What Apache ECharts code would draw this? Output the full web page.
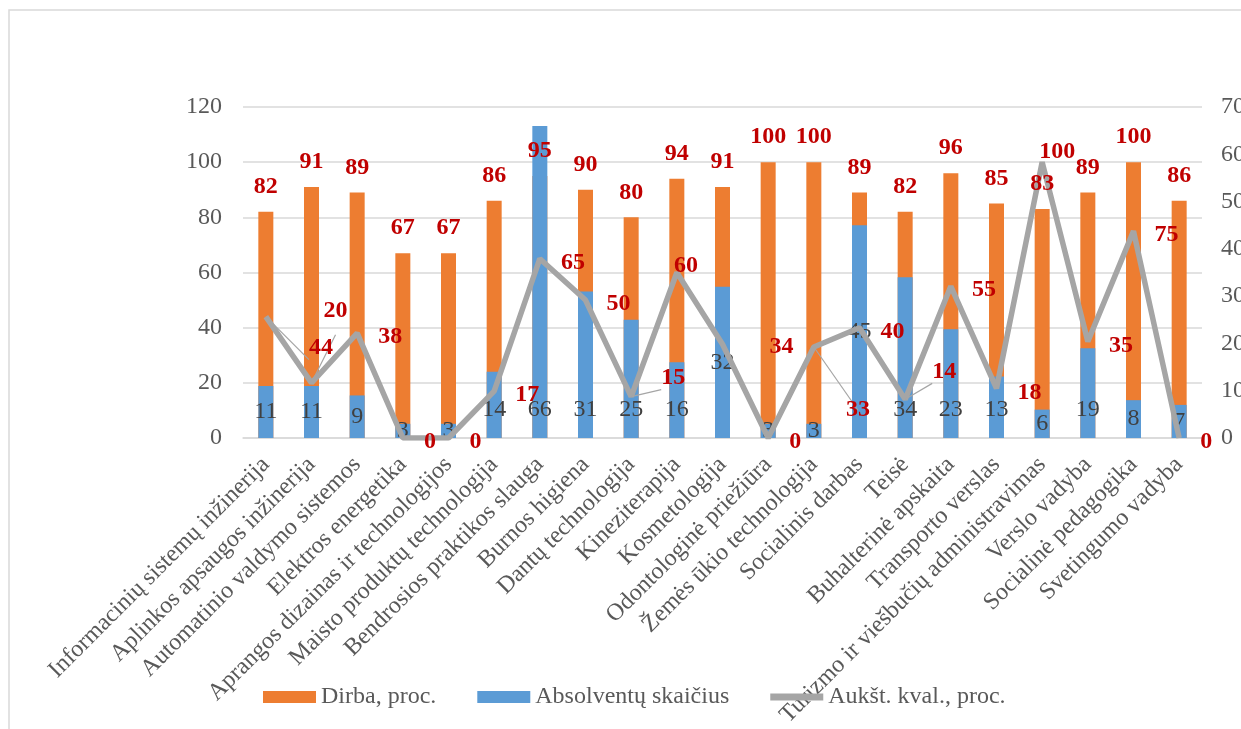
<!DOCTYPE html>
<html>
<head>
<meta charset="utf-8">
<script src="https://cdn.jsdelivr.net/npm/echarts@6/dist/echarts.min.js"></script>
<style>
html,body{margin:0;padding:0;background:#fff;}
#chart{width:1241px;height:729px;}
</style>
</head>
<body>
<div id="chart"></div>
<script>
const categories = [
  'Informacinių sistemų inžinerija',
  'Aplinkos apsaugos inžinerija',
  'Automatinio valdymo sistemos',
  'Elektros energetika',
  'Aprangos dizainas ir technologijos',
  'Maisto produktų technologija',
  'Bendrosios praktikos slauga',
  'Burnos higiena',
  'Dantų technologija',
  'Kineziterapija',
  'Kosmetologija',
  'Odontologinė priežiūra',
  'Žemės ūkio technologija',
  'Socialinis darbas',
  'Teisė',
  'Buhalterinė apskaita',
  'Transporto verslas',
  'Turizmo ir viešbučių administravimas',
  'Verslo vadyba',
  'Socialinė pedagogika',
  'Svetingumo vadyba'
];
const dirba = [82, 91, 89, 67, 67, 86, 95, 90, 80, 94, 91, 100, 100, 89, 82, 96, 85, 83, 89, 100, 86];
const absolventai = [11, 11, 9, 3, 3, 14, 66, 31, 25, 16, 32, 3, 3, 45, 34, 23, 13, 6, 19, 8, 7];
const aukstKval = [44, 20, 38, 0, 0, 17, 65, 50, 15, 60, 34, 0, 33, 40, 14, 55, 18, 100, 35, 75, 0];
const leftTicks = [0, 20, 40, 60, 80, 100, 120];
const rightTicks = [0, 10, 20, 30, 40, 50, 60, 70];

// label styling (not data)
const lineLabelDefaultShift = [1, 4];
const lineLabelShift = {0: [23, 31], 1: [-8, -72], 8: [10, -19], 9: [-23, -7], 10: [27, 3], 12: [12, 63], 14: [7, -28], 17: [-23, -10]};
const lineLabelLeaders = [0, 1, 8, 12, 14];
const centeredBlueLabels = [10, 13];

const FONT = '"Liberation Serif", "Times New Roman", serif';
const FS = 24;
const RED = '#C00000';
const GRAY = '#A5A5A5';
const TXT = '#595959';

const blueData = absolventai.map((v, i) => {
  const centered = v < 12 || centeredBlueLabels.includes(i);
  return {value: v, label: {position: centered ? 'inside' : 'insideBottom', distance: centered ? 0 : 16}};
});
const lineData = aukstKval.map((v, i) => {
  const item = {value: v, label: {offset: lineLabelShift[i] || lineLabelDefaultShift}};
  if (lineLabelLeaders.includes(i)) item.labelLine = {show: true};
  return item;
});

const chart = echarts.init(document.getElementById('chart'), null, {renderer: 'canvas'});
chart.setOption({
  animation: false,
  backgroundColor: '#fff',
  textStyle: {fontFamily: FONT},
  graphic: [{
    type: 'rect', z: -10, silent: true,
    shape: {x: 9, y: 10, width: 1400, height: 1000},
    style: {fill: 'none', stroke: '#D9D9D9', lineWidth: 1.5}
  }],
  grid: {left: 243, right: 39, top: 107, bottom: 291, containLabel: false, outerBoundsMode: 'none'},
  legend: {
    left: 258, top: 680,
    itemWidth: 53, itemHeight: 12, itemGap: 41,
    textStyle: {fontFamily: FONT, fontSize: FS, color: TXT},
    data: [
      {name: 'Dirba, proc.', icon: 'rect'},
      {name: 'Absolventų skaičius', icon: 'rect'},
      {name: 'Aukšt. kval., proc.', icon: 'path://M0,0L0.01,0ZM0,12L0.01,12ZM0,2.5H53V9.5H0Z', itemStyle: {color: GRAY}}
    ]
  },
  xAxis: {
    type: 'category',
    data: categories,
    axisLine: {lineStyle: {color: '#D9D9D9', width: 1.5}},
    axisTick: {show: false},
    axisLabel: {
      interval: 0, rotate: 45, margin: 23,
      fontFamily: FONT, fontSize: FS, color: TXT,
      padding: [28, 0, 0, 0]
    }
  },
  yAxis: [{
    type: 'value', min: 0, max: 120, interval: 20,
    axisLine: {show: false}, axisTick: {show: false},
    splitLine: {lineStyle: {color: '#D9D9D9', width: 1.5}},
    axisLabel: {fontFamily: FONT, fontSize: FS, color: TXT, margin: 21,
      formatter: v => leftTicks.includes(v) ? String(v) : ''}
  }, {
    type: 'value', min: 0, max: 70, interval: 10,
    axisLine: {show: false}, axisTick: {show: false},
    splitLine: {show: false},
    axisLabel: {fontFamily: FONT, fontSize: FS, color: TXT, margin: 19,
      formatter: v => rightTicks.includes(v) ? String(v) : ''}
  }],
  series: [{
    name: 'Dirba, proc.', type: 'bar', yAxisIndex: 0,
    data: dirba, barWidth: 15, barGap: '-100%', z: 2,
    itemStyle: {color: '#ED7D31'}
  }, {
    name: 'Absolventų skaičius', type: 'bar', yAxisIndex: 1,
    data: blueData, barWidth: 15, barGap: '-100%', z: 3,
    itemStyle: {color: '#5B9BD5'},
    label: {show: true, fontFamily: FONT, fontSize: FS, color: '#404040'}
  }, {
    name: 'Dirba labels', type: 'bar', yAxisIndex: 0,
    data: dirba, barWidth: 15, barGap: '-100%', z: 6, silent: true,
    itemStyle: {color: 'rgba(0,0,0,0)'},
    label: {show: true, position: 'top', distance: 13,
      fontFamily: FONT, fontSize: FS, fontWeight: 'bold', color: RED}
  }, {
    name: 'Aukšt. kval., proc.', type: 'line', yAxisIndex: 0,
    data: lineData, z: 5,
    symbol: 'circle', symbolSize: 0.1, showSymbol: true,
    lineStyle: {color: GRAY, width: 5.5},
    itemStyle: {color: GRAY},
    labelLine: {show: false, lineStyle: {color: GRAY, width: 1.2}},
    label: {show: true, position: 'right', distance: 20,
      fontFamily: FONT, fontSize: FS, fontWeight: 'bold', color: RED}
  }]
});
</script>
</body>
</html>
